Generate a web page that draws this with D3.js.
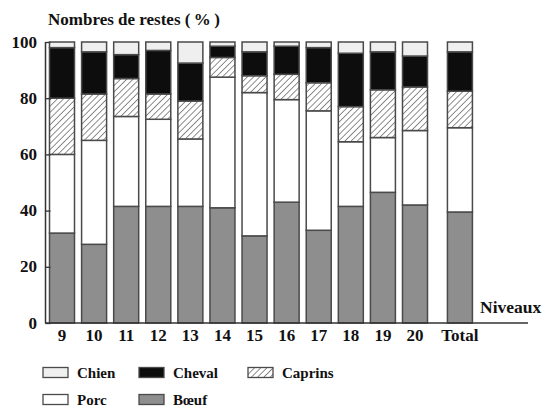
<!DOCTYPE html>
<html>
<head>
<meta charset="utf-8">
<script src="https://cdn.jsdelivr.net/npm/d3@7"></script>
<style>
  html, body { margin: 0; padding: 0; background: #fff; }
</style>
</head>
<body>
<svg id="chart" width="542" height="406"></svg>
<script>
// Stratigraphic levels and the overall total
const levels = ["9", "10", "11", "12", "13", "14", "15", "16", "17", "18", "19", "20", "Total"];
// Position index along the axis (Total set apart)
const slots = [0, 1, 2, 3, 4, 5, 6, 7, 8, 9, 10, 11, 12.4];

// Share of remains (%) per taxon, stacked from the bottom up
const boeuf   = [32, 28, 41.5, 41.5, 41.5, 41, 31, 43, 33, 41.5, 46.5, 42, 39.5];
const porc    = [28, 37, 32, 31, 24, 46.5, 51, 36.5, 42.5, 23, 19.5, 26.5, 30];
const caprins = [20, 16.5, 13.5, 9, 13.5, 7, 6, 9, 10, 12.5, 17, 15.5, 13];
const cheval  = [18, 15, 8.5, 15.5, 13.5, 4, 8.5, 10, 12.5, 19, 13.5, 11, 14];
const chien   = [2, 3.5, 4.5, 3, 7.5, 1.5, 3.5, 1.5, 2, 4, 3.5, 5, 3.5];

const yTicks = [0, 20, 40, 60, 80, 100];

const FONT = '"Liberation Serif", "Times New Roman", serif';

const taxa = [
  { key: "boeuf",   label: "Bœuf",    values: boeuf,   fill: "#8e8e8e" },
  { key: "porc",    label: "Porc",    values: porc,    fill: "#ffffff" },
  { key: "caprins", label: "Caprins", values: caprins, fill: "url(#hatch)" },
  { key: "cheval",  label: "Cheval",  values: cheval,  fill: "#0d0d0d" },
  { key: "chien",   label: "Chien",   values: chien,   fill: "#efefef" }
];

const rows = levels.map((lv, i) => {
  const r = { level: lv, slot: slots[i] };
  taxa.forEach(t => { r[t.key] = t.values[i]; });
  return r;
});

const svg = d3.select("#chart");

function label(sel, size) {
  return sel.style("font-family", FONT)
    .style("font-weight", "bold")
    .style("font-size", size + "px")
    .attr("fill", "#111");
}

// Diagonal hatching for Caprins
const defs = svg.append("defs");
const pat = defs.append("pattern")
  .attr("id", "hatch")
  .attr("patternUnits", "userSpaceOnUse")
  .attr("width", 4.4).attr("height", 4.4)
  .attr("patternTransform", "rotate(45)");
pat.append("rect").attr("width", 4.4).attr("height", 4.4).attr("fill", "#fff");
pat.append("line")
  .attr("x1", 0).attr("y1", 0).attr("x2", 0).attr("y2", 4.4)
  .attr("stroke", "#333").attr("stroke-width", 1.1);

const y = d3.scaleLinear().domain([0, 100]).range([323, 42]);
const x = d3.scaleLinear().domain([0, 11]).range([62, 415]);
const barW = 25;

const stack = d3.stack().keys(taxa.map(t => t.key));
const series = stack(rows);

// Stacked bars
const g = svg.append("g");
series.forEach((s, si) => {
  g.selectAll(null)
    .data(s)
    .join("rect")
    .attr("x", d => x(d.data.slot) - barW / 2)
    .attr("width", barW)
    .attr("y", d => y(d[1]))
    .attr("height", d => y(d[0]) - y(d[1]))
    .attr("fill", taxa[si].fill)
    .attr("stroke", "#4a4a4a")
    .attr("stroke-width", 1.5);
});

// Y axis with inward ticks
const yAxis = d3.axisRight(y).tickValues(yTicks).tickSize(5).tickFormat("");
const ya = svg.append("g").attr("transform", "translate(45.5,0)").call(yAxis);
ya.select(".domain").attr("stroke", "#333").attr("stroke-width", 1.5).attr("d", `M0,${y(0)}V${y(100)}`);
ya.selectAll(".tick line").attr("stroke", "#333").attr("stroke-width", 1.3);

svg.append("g").selectAll("text")
  .data(yTicks)
  .join("text")
  .attr("x", 37)
  .attr("y", d => y(d) + 5.5)
  .attr("text-anchor", "end")
  .call(label, 17)
  .text(d => d);

// X baseline
svg.append("line")
  .attr("x1", 45).attr("x2", 528)
  .attr("y1", y(0)).attr("y2", y(0))
  .attr("stroke", "#333").attr("stroke-width", 1.5);

// Level labels
svg.append("g").selectAll("text")
  .data(rows)
  .join("text")
  .attr("x", d => x(d.slot))
  .attr("y", 341)
  .attr("text-anchor", "middle")
  .call(label, 17)
  .text(d => d.level);

// Titles
svg.append("text")
  .attr("x", 48).attr("y", 25)
  .call(label, 17)
  .text("Nombres de restes (\u2009%\u2009)");

svg.append("text")
  .attr("x", 480).attr("y", 313)
  .call(label, 17.5)
  .text("Niveaux");

// Legend
const legendItems = [
  { key: "chien",   col: 0, row: 0 },
  { key: "cheval",  col: 1, row: 0 },
  { key: "caprins", col: 2, row: 0 },
  { key: "porc",    col: 0, row: 1 },
  { key: "boeuf",   col: 1, row: 1 }
];
const colX = [43, 139, 248];
const rowY = [367.5, 394.5];
const lg = svg.append("g").selectAll("g")
  .data(legendItems)
  .join("g")
  .attr("transform", d => `translate(${colX[d.col]},${rowY[d.row]})`);
lg.append("rect")
  .attr("width", 25).attr("height", 10)
  .attr("fill", d => taxa.find(t => t.key === d.key).fill)
  .attr("stroke", "#4a4a4a").attr("stroke-width", 1.3);
lg.append("text")
  .attr("x", 34).attr("y", 10)
  .call(label, 15)
  .text(d => taxa.find(t => t.key === d.key).label);
</script>
</body>
</html>
